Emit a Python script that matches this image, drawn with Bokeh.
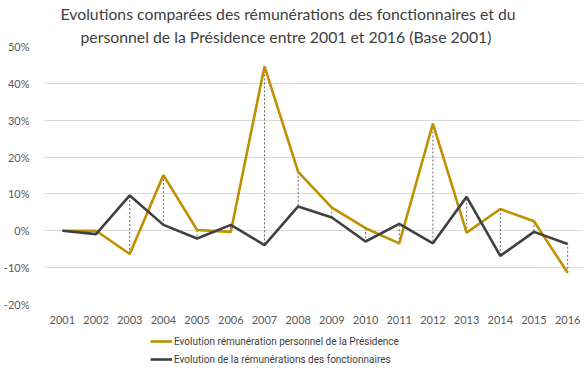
from bokeh.plotting import figure
from bokeh.layouts import column
from bokeh.models import ColumnDataSource, Title, Legend, LegendItem, PrintfTickFormatter, FixedTicker
from bokeh.embed import file_html
from bokeh.resources import INLINE

years = list(range(2001, 2017))
presidence = [0.0, 0.0, -6.3, 15.1, 0.2, -0.3, 44.6, 16.0, 6.3, 0.7, -3.4, 29.1, -0.5, 5.9, 2.6, -11.4]
fonctionnaires = [0.0, -0.9, 9.6, 1.6, -2.1, 1.6, -3.9, 6.6, 3.6, -2.9, 1.9, -3.4, 9.2, -6.8, -0.3, -3.6]
y_ticks = [-20, -10, 0, 10, 20, 30, 40, 50]
title_lines = ["Evolutions comparées des rémunérations des fonctionnaires et du",
               "personnel de la Présidence  entre 2001 et 2016 (Base 2001)"]
legend_labels = ["Evolution rémunération personnel de la Présidence",
                 "Evolution de la rémunérations des fonctionnaires"]

GOLD = "#BF9000"
DARK = "#404040"
FONT = "Lato"

src = ColumnDataSource(dict(year=years, pres=presidence, fonc=fonctionnaires))

p = figure(width=585, height=326, output_backend="svg", toolbar_location=None,
           x_range=(2000.44, 2016.47), y_range=(-20, 50),
           min_border_left=40, min_border_right=2, min_border_top=45, min_border_bottom=22)
p.outline_line_color = None
p.background_fill_color = "white"

p.xgrid.grid_line_color = None
p.ygrid.grid_line_color = "#D9D9D9"
p.ygrid.grid_line_width = 1

p.xaxis.ticker = FixedTicker(ticks=years)
p.yaxis.ticker = FixedTicker(ticks=y_ticks)
p.yaxis.formatter = PrintfTickFormatter(format="%d%%")
for ax in (p.xaxis, p.yaxis):
    ax.axis_line_color = None
    ax.major_tick_line_color = None
    ax.minor_tick_line_color = None
    ax.major_label_text_font = FONT
    ax.major_label_text_font_size = "11px"
    ax.major_label_text_color = "#595959"
p.xaxis.major_label_standoff = 5
p.yaxis.major_label_standoff = 8

p.segment(x0="year", y0="pres", x1="year", y1="fonc", source=src,
          line_color="#404040", line_width=0.8, line_dash="2 2")
p.line("year", "pres", source=src, line_color=GOLD, line_width=2.6)
p.line("year", "fonc", source=src, line_color=DARK, line_width=2.6)

# title: second line added first (closest to the frame)
for txt, off in ((title_lines[1], 37), (title_lines[0], 17)):
    p.add_layout(Title(text=txt, align="left", offset=off, text_font=FONT,
                       text_font_size="15.8px", text_font_style="normal",
                       text_color="#404040", standoff=2), "above")

# legend strip below the chart (series drawn out of its visible range; only legend shows)
pl = figure(width=585, height=50, output_backend="svg", toolbar_location=None,
            x_range=(0, 1), y_range=(0, 1), min_border=0,
            x_axis_type=None, y_axis_type=None)
pl.outline_line_color = None
pl.grid.visible = False
l1 = pl.line(x=years, y=presidence, line_color=GOLD, line_width=2.6)
l2 = pl.line(x=years, y=fonctionnaires, line_color=DARK, line_width=2.6)
legend = Legend(items=[LegendItem(label=legend_labels[0], renderers=[l1]),
                       LegendItem(label=legend_labels[1], renderers=[l2])],
                location=(107, 9), orientation="vertical",
                padding=0, margin=0, spacing=2, glyph_width=22, glyph_height=16,
                label_standoff=2, label_text_font="Roboto",
                label_text_font_size="10px", label_text_color="#404040",
                border_line_color=None, background_fill_alpha=0)
pl.add_layout(legend)

layout = column(p, pl, spacing=0)
open("out.html", "w").write(file_html(layout, INLINE))
